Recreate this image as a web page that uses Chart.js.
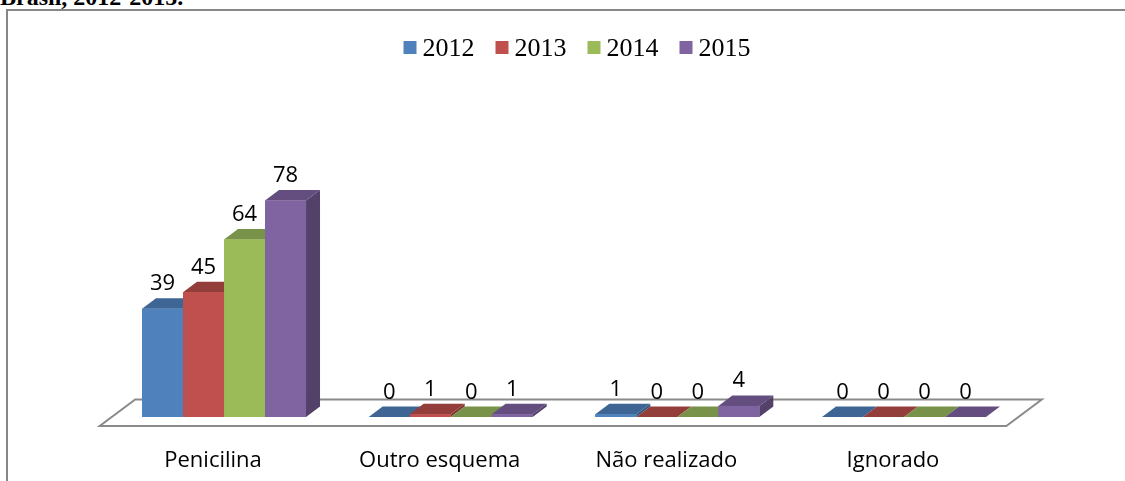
<!DOCTYPE html>
<html>
<head>
<meta charset="utf-8">
<script src="https://cdn.jsdelivr.net/npm/chart.js@4.4.0/dist/chart.umd.min.js"></script>
<style>
  html, body { margin: 0; padding: 0; background: #fff; overflow: hidden; }
  #wrap { position: relative; width: 1125px; height: 481px; overflow: hidden; }
  #caption { position: absolute; left: 0; top: -15px; font: bold 24px/24px "Liberation Serif", serif; color: #000; white-space: nowrap; }
  #frame { position: absolute; left: 6px; top: 9px; width: 1300px; height: 600px; border-left: 2px solid #878787; border-top: 2px solid #878787; }
  #myChart { position: absolute; left: 0; top: 0; }
</style>
</head>
<body>
<div id="wrap">
  <div id="caption">Brasil, 2012-2015.</div>
  <div id="frame"></div>
  <canvas id="myChart" width="1125" height="481"></canvas>
</div>
<script>
const categorias = ["Penicilina", "Outro esquema", "Não realizado", "Ignorado"];
const anos = ["2012", "2013", "2014", "2015"];
const valores2012 = [39, 0, 1, 0];
const valores2013 = [45, 1, 0, 0];
const valores2014 = [64, 0, 0, 0];
const valores2015 = [78, 1, 4, 0];

const coresFrente = ["#4f81bd", "#c0504d", "#9bbb59", "#8064a2"];
const coresTopo = ["#3e6594", "#943e3b", "#78924a", "#634e7f"];
const coresLado = ["#345780", "#7f3533", "#657c3c", "#534169"];

const DX = 14;
const DY = 10.5;

const chartEl = document.getElementById("myChart");

function poligono(ctx, pts, cor) {
  ctx.beginPath();
  ctx.moveTo(pts[0][0], pts[0][1]);
  for (let k = 1; k < pts.length; k++) ctx.lineTo(pts[k][0], pts[k][1]);
  ctx.closePath();
  ctx.fillStyle = cor;
  ctx.fill();
}

// piso e barras em 3D
const barras3d = {
  id: "barras3d",
  beforeDatasetsDraw(chart) {
    const { ctx, chartArea: a } = chart;
    const base = chart.scales.y.getPixelForValue(0);
    ctx.save();
    ctx.beginPath();
    ctx.moveTo(a.left - 11, base + 9);
    ctx.lineTo(a.right - 11, base + 9);
    ctx.lineTo(a.right + 24.5, base - 17.5);
    ctx.lineTo(a.left + 24.5, base - 17.5);
    ctx.closePath();
    ctx.fillStyle = "#fff";
    ctx.fill();
    ctx.lineWidth = 2;
    ctx.strokeStyle = "#8a8a8a";
    ctx.stroke();
    ctx.restore();
  },
  afterDatasetsDraw(chart) {
    const ctx = chart.ctx;
    const n = chart.data.labels.length;
    ctx.save();
    for (let i = 0; i < n; i++) {
      chart.data.datasets.forEach((ds, d) => {
        const bar = chart.getDatasetMeta(d).data[i];
        const x0 = bar.x - bar.width / 2;
        const x1 = bar.x + bar.width / 2;
        const y = bar.y;
        const b = bar.base;
        poligono(ctx, [[x1, y], [x1 + DX, y - DY], [x1 + DX, b - DY], [x1, b]], coresLado[d]);
        poligono(ctx, [[x0, y], [x1, y], [x1 + DX, y - DY], [x0 + DX, y - DY]], coresTopo[d]);
        if (b - y > 0) {
          ctx.fillStyle = coresFrente[d];
          ctx.fillRect(x0, y, x1 - x0, b - y);
        }
      });
    }
    // rótulos de valor
    ctx.font = '22px "Open Sans"';
    ctx.fillStyle = "#000";
    ctx.textAlign = "center";
    ctx.textBaseline = "alphabetic";
    chart.data.datasets.forEach((ds, d) => {
      chart.getDatasetMeta(d).data.forEach((bar, i) => {
        ctx.fillText(String(ds.data[i]), bar.x, bar.y - DY - 8);
      });
    });
    ctx.restore();
  }
};

// legenda no topo
const legendaTopo = {
  id: "legendaTopo",
  afterDraw(chart) {
    const ctx = chart.ctx;
    ctx.save();
    ctx.font = '26px "Liberation Serif"';
    const itens = chart.data.datasets.map((ds, d) => ({
      texto: ds.label,
      cor: coresFrente[d],
      w: ctx.measureText(ds.label).width
    }));
    const total = itens.reduce((s, it) => s + 13 + 6 + it.w, 0) + 21 * (itens.length - 1);
    let x = 577 - total / 2;
    ctx.textBaseline = "alphabetic";
    ctx.textAlign = "left";
    itens.forEach((it) => {
      ctx.fillStyle = it.cor;
      ctx.fillRect(x, 41, 13, 13);
      ctx.fillStyle = "#000";
      ctx.fillText(it.texto, x + 19, 56);
      x += 13 + 6 + it.w + 21;
    });
    ctx.restore();
  }
};

const series = [valores2012, valores2013, valores2014, valores2015];

new Chart(chartEl, {
  type: "bar",
  data: {
    labels: categorias,
    datasets: series.map((valores, d) => ({
      label: anos[d],
      data: valores,
      backgroundColor: coresFrente[d],
      borderWidth: 0,
      categoryPercentage: 0.7236,
      barPercentage: 1
    }))
  },
  options: {
    responsive: false,
    devicePixelRatio: 1,
    animation: false,
    layout: { padding: { top: 139.5, left: 110.7, right: 107.7, bottom: 0 } },
    plugins: { legend: { display: false }, tooltip: { enabled: false } },
    scales: {
      y: { display: false, min: 0, max: 100 },
      x: {
        grid: { display: false, drawTicks: false, tickLength: 0 },
        border: { display: false },
        ticks: {
          color: "#000",
          font: { family: "Open Sans", size: 22 },
          padding: 31,
          labelOffset: -11,
          maxRotation: 0,
          autoSkip: false
        },
        afterFit(scale) { scale.height = 64; }
      }
    }
  },
  plugins: [barras3d, legendaTopo]
});
</script>
</body>
</html>
